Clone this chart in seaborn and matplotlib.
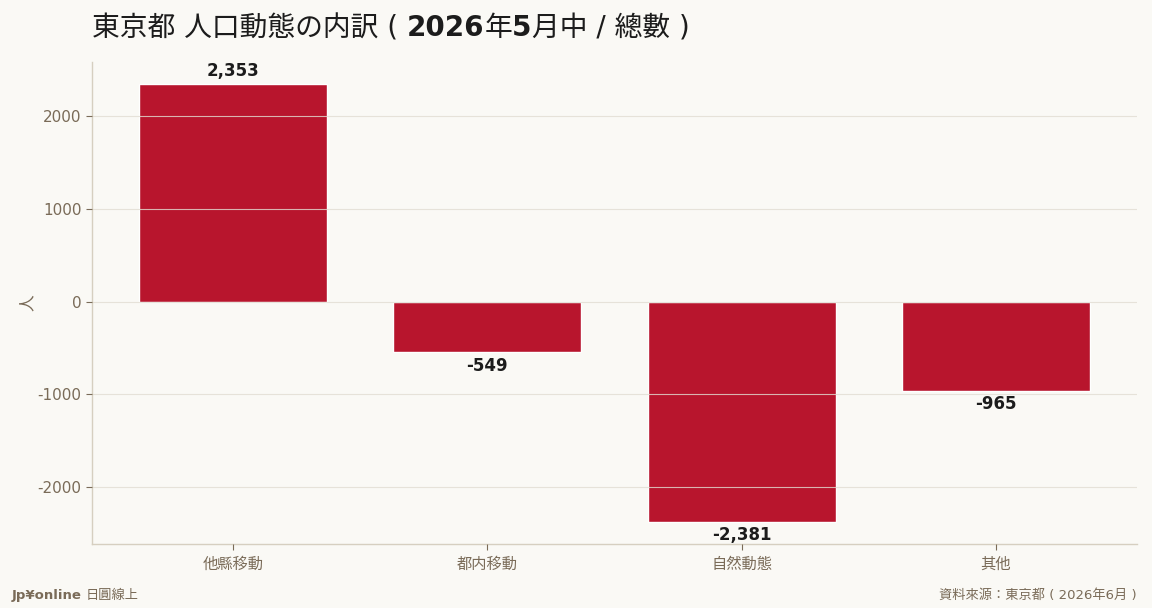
import pandas as pd
import matplotlib.pyplot as plt
import seaborn as sns

categories = ['他縣移動', '都内移動', '自然動態', '其他']
values = [2353, -549, -2381, -965]

BG = '#faf9f5'
BAR = '#b8152d'
MUTED = '#7a6b58'
DARK = '#1c1c1c'
FONTS = ['DejaVu Sans', 'Noto Sans CJK JP']

sns.set_theme(style='white')
plt.rcParams['font.family'] = FONTS
plt.rcParams['axes.unicode_minus'] = False

df = pd.DataFrame({'category': categories, 'value': values})

fig = plt.figure(figsize=(11.52, 6.08), dpi=100, facecolor=BG)
ax = fig.add_axes([92 / 1152, 1 - 544 / 608, (1137 - 92) / 1152, (544 - 62) / 608])
ax.set_facecolor(BG)

sns.barplot(data=df, x='category', y='value', color=BAR, width=0.74,
            saturation=1, ax=ax)

ax.set_ylim(min(values) * 1.1, max(values) * 1.1)
ax.set_xlim(-0.555, len(categories) - 0.445)
ax.set_yticks([-2000, -1000, 0, 1000, 2000])

# grid on top of the bars, faint
ax.set_axisbelow(False)
ax.yaxis.grid(True, color='#e2ddd2', linewidth=0.8, alpha=0.8)
ax.xaxis.grid(False)

for side in ['top', 'right']:
    ax.spines[side].set_visible(False)
for side in ['left', 'bottom']:
    ax.spines[side].set_color('#d6cfc0')
    ax.spines[side].set_linewidth(1)

ax.tick_params(axis='y', colors=MUTED, labelsize=11, length=4, width=0.8, left=True)
ax.tick_params(axis='x', colors=MUTED, labelsize=11, length=4, width=0.8, bottom=True, pad=5)

ax.set_xlabel('')
ax.set_ylabel('人', color=MUTED, fontsize=12, labelpad=1)

for i, v in enumerate(values):
    off = 3 if v >= 0 else -3
    ax.annotate(f'{v:,}', (i, v), xytext=(0, off), textcoords='offset points',
                ha='center', va='bottom' if v >= 0 else 'top',
                fontsize=12, fontweight='bold', color=DARK)

# title in pieces: digits bold, CJK regular
fig.canvas.draw()
r = fig.canvas.get_renderer()
title_parts = [('東京都 人口動態の内訳 ( ', 'normal'), ('2026', 'bold'), ('年', 'normal'),
               ('5', 'bold'), ('月中 / 總數 )', 'normal')]
x = 92
for txt, w in title_parts:
    t = fig.text(x / 1152, 1 - 28 / 608, txt, fontsize=20, fontweight=w,
                 color=DARK, va='center', ha='left')
    x = t.get_window_extent(r).x1

# footer
f1 = fig.text(12 / 1152, 1 - 595 / 608, 'Jp¥online', fontsize=9.5, fontweight='bold',
              color=MUTED, va='center', ha='left')
bb3 = f1.get_window_extent(r)
fig.text(bb3.x1 / 1152 + 0.003, 1 - 595 / 608, '日圓線上', fontsize=9.5,
         color=MUTED, va='center', ha='left')
fig.text(1137 / 1152, 1 - 595 / 608, '資料來源：東京都 ( 2026年6月 )', fontsize=9.5,
         color=MUTED, va='center', ha='right')

fig.savefig('out.png', dpi=100, facecolor=BG)
